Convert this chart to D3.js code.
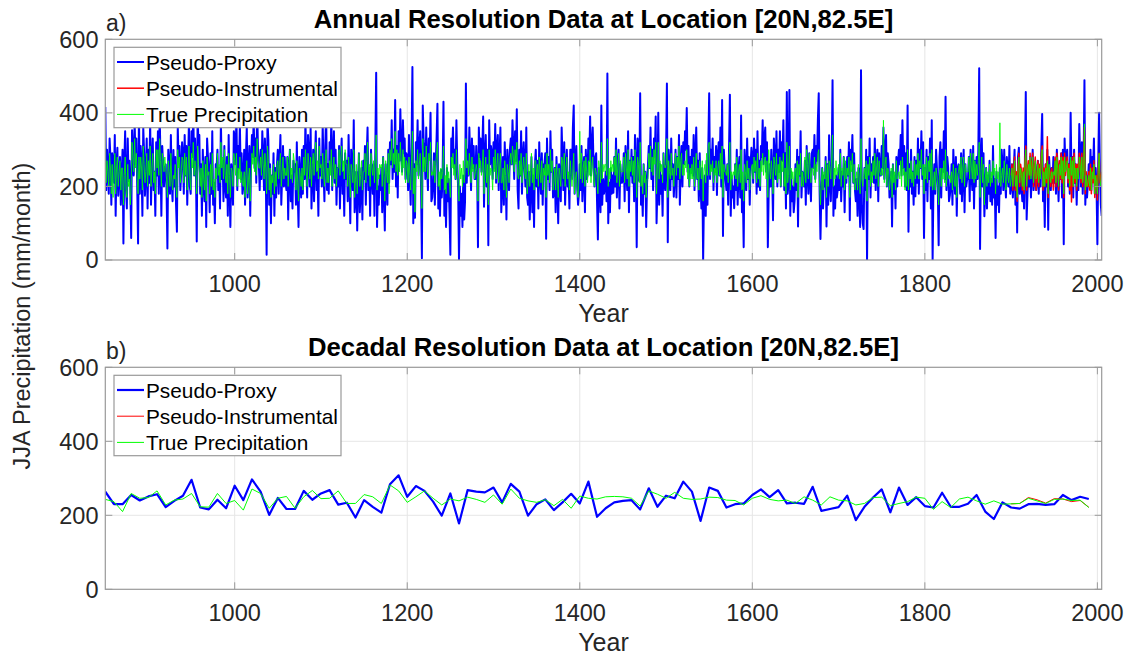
<!DOCTYPE html>
<html><head><meta charset="utf-8">
<script src="https://cdn.jsdelivr.net/npm/d3@7"></script>
<style>body{margin:0;background:#fff} text{font-family:Arial,"Liberation Sans",Helvetica,sans-serif;fill:#262626}</style>
</head><body><svg id="c" width="1132" height="661"></svg>
<script>
const annualStart = 850;
const proxyAnnual = [
416,190,300,245,180,330,275,150,290,264, 210,340,120,260,305,175,230,280,150,230,
300,45,260,350,190,140,330,215,270,200, 60,353,290,230,380,260,330,200,45,402,
180,310,255,120,360,290,175,240,330,140, 300,210,380,150,270,330,190,240,120,320,
230,350,180,400,270,120,310,260,200,250, 260,190,31,300,250,180,340,210,160,299,
200,280,150,77,362,260,310,190,240,320, 290,180,340,230,310,150,270,380,200,180,
350,280,410,230,330,260,50,390,320,340, 180,260,120,300,210,160,280,90,330,280,
240,130,290,180,350,150,210,100,260,250, 300,190,250,140,380,220,270,160,310,200,
170,280,120,340,200,90,260,230,150,350, 330,260,400,190,310,250,370,220,290,180,
210,300,150,280,360,170,240,310,120,270, 340,280,390,250,330,210,420,300,260,190,
300,220,350,280,190,330,250,14,380,326, 150,260,100,230,180,290,120,250,170,260,
300,180,270,340,150,230,310,200,280,210, 190,280,110,250,300,160,230,140,270,240,
260,150,320,190,90,280,230,170,300,180, 310,220,380,250,170,340,290,200,360,140,
230,300,160,270,350,190,240,120,330,230, 280,200,370,240,160,310,400,190,260,180,
320,240,390,190,280,350,210,300,150,250, 200,310,140,260,330,180,240,120,290,220,
270,160,340,220,100,300,250,190,380,130, 170,240,80,210,290,130,190,250,110,270,
220,310,150,280,360,190,250,120,300,230, 180,260,120,300,509,90,200,150,230,190,
250,130,280,190,80,260,220,150,300,210, 320,260,380,220,300,240,435,200,310,170,
350,270,410,300,240,380,290,330,220,290, 280,190,340,230,150,310,525,100,260,115,
320,260,380,230,300,350,200,5,420,325, 300,220,360,250,190,330,280,400,160,170,
210,290,150,260,330,425,140,200,120,245, 170,230,430,120,190,90,250,160,220,130,
14,330,280,360,250,300,220,380,260,196, 0,200,120,180,90,230,110,160,480,210,
300,230,360,270,190,330,250,310,220,220, 310,250,35,360,280,330,240,300,390,145,
280,340,200,300,40,380,260,310,290,220, 320,250,370,210,300,340,190,280,360,130,
200,280,150,320,240,110,300,260,190,300, 330,260,380,300,220,350,270,410,190,140,
300,230,350,180,280,320,250,200,360,170, 150,240,110,200,280,130,230,90,260,300,
200,270,140,320,230,180,290,150,260,260, 290,58,330,220,280,190,350,240,300,170,
180,250,130,280,200,100,260,220,160,360, 270,190,320,150,250,300,200,230,140,300,
300,220,360,420,180,260,310,200,150,180, 260,190,310,160,240,280,130,300,220,230,
330,270,390,230,310,360,250,200,280,290, 160,56,250,200,130,420,150,220,180,194,
240,160,507,100,210,130,250,180,230,183, 280,200,330,170,250,300,140,260,210,210,
220,290,160,310,240,190,350,130,270,230, 300,210,280,160,340,250,35,330,290,215,
453,150,200,120,260,180,240,90,210,257, 310,250,360,220,300,190,330,280,390,100,
200,400,150,260,180,230,120,290,210,190, 280,480,48,300,250,190,330,220,260,172,
230,300,170,280,220,340,150,260,310,200, 320,260,350,300,413,240,310,200,280,237,
300,230,340,190,280,360,220,270,160,290, 200,140,250,0,180,230,120,270,150,310,
453,220,300,250,330,190,280,240,310,177, 280,320,230,360,200,435,65,300,250,220,
190,260,150,300,449,120,230,170,200,141, 260,190,300,150,240,280,170,393,130,190,
35,300,250,190,330,220,280,150,260,305, 280,210,330,240,300,180,350,200,270,190,
310,280,380,260,330,360,240,320,35,185, 260,200,300,240,108,330,280,220,350,200,
300,240,350,200,320,270,380,190,290,140, 457,180,210,462,120,240,160,200,130,161,
260,190,300,91,280,230,350,170,240,229, 200,270,150,310,240,180,290,220,160,290,
300,250,340,220,310,270,380,453,190,57, 180,250,140,230,200,280,91,260,150,339,
210,160,260,489,120,200,140,230,170,191, 250,190,300,160,240,200,280,130,260,210,
280,230,320,108,300,260,340,210,290,190, 160,220,120,250,180,90,516,150,100,84,
250,190,300,0,280,220,330,170,260,230, 280,210,330,190,260,300,160,290,230,230,
310,250,360,220,300,340,200,290,260,170, 190,240,91,260,180,230,140,280,200,269,
300,260,340,230,380,250,310,200,290,190, 420,77,260,200,300,180,240,150,280,173,
270,210,330,180,300,250,350,220,320,60, 250,190,300,160,280,220,330,140,380,0,
210,260,180,300,250,200,40,280,320,170, 300,240,350,220,444,190,280,250,160,176,
200,260,150,300,230,180,280,120,250,260, 250,180,290,160,240,300,130,260,200,220,
220,280,160,300,240,190,310,140,270,200, 280,220,300,521,30,260,330,200,290,119,
190,250,140,230,180,270,160,220,150,310, 170,220,60,240,150,200,130,250,180,300,
260,190,300,220,170,280,240,200,310,180, 200,260,170,240,300,150,230,75,280,305,
180,250,200,160,230,140,270,457,110,183, 250,200,280,170,240,300,190,220,260,190,
220,270,180,250,200,300,397,160,240,90, 260,200,300,82,280,230,190,250,210,280,
210,270,180,300,240,160,260,220,290,170, 300,43,330,250,280,300,200,260,180,400,
230,280,170,300,210,260,150,250,190,370, 280,200,320,180,260,489,150,230,170,210,
260,210,300,190,280,240,330,180,250,200, 43,260,400,230,150,120];
const trueAnnual = [
350,210,270,240,200,290,250,180,260,170, 220,290,180,250,280,200,240,270,190,250,
250,150,230,280,190,170,260,200,220,150, 200,320,280,240,330,250,290,220,180,280,
220,280,250,190,310,260,210,240,290,200, 270,230,310,200,250,290,210,240,180,300,
250,300,230,330,270,200,290,270,240,280, 250,220,170,270,240,200,290,220,190,230,
220,260,200,170,300,250,280,210,240,280, 270,210,290,230,280,190,250,310,220,190,
290,250,320,230,270,240,180,310,260,240, 200,250,170,270,220,190,260,160,280,230,
240,180,260,200,290,190,220,170,250,220, 290,230,260,210,320,250,280,220,300,230,
210,260,180,290,230,170,250,240,200,290, 270,230,290,200,250,220,280,210,240,210,
200,240,170,230,270,180,220,250,160,220, 290,260,310,240,280,230,330,270,250,250,
280,230,300,260,220,290,250,180,310,270, 190,250,170,230,210,260,180,240,200,260,
270,220,260,290,200,240,280,220,250,230, 230,280,200,260,300,220,250,210,290,270,
240,190,270,210,160,250,230,200,250,190, 280,230,300,240,200,290,260,220,280,200,
260,290,230,280,320,240,270,220,310,250, 260,220,290,240,200,270,300,210,250,210,
270,230,300,200,250,280,220,260,200,250, 250,300,230,280,310,240,270,220,300,260,
260,200,280,230,170,260,240,210,300,170, 220,260,180,240,290,200,230,270,190,240,
240,290,210,270,320,230,260,200,290,250, 230,270,210,280,340,190,250,220,260,250,
260,200,280,230,160,270,240,210,290,180, 300,270,330,250,290,260,350,240,300,230,
290,240,320,270,230,300,250,280,210,270, 260,210,280,230,190,270,350,180,250,130,
270,240,300,220,260,290,210,140,330,240, 280,240,310,260,220,290,270,320,230,240,
230,270,210,260,290,320,200,240,190,250, 220,240,310,190,230,180,260,210,240,200,
170,280,250,290,230,260,220,300,240,200, 160,260,220,250,200,270,210,240,330,250,
270,230,290,250,210,280,240,260,220,240, 260,240,160,290,250,270,230,250,300,180,
240,280,210,260,150,300,230,250,240,190, 280,240,300,220,260,290,210,250,290,210,
210,250,190,270,230,170,260,240,210,270, 290,260,310,280,240,300,260,320,230,220,
270,230,290,210,250,280,240,220,290,180, 210,260,200,240,290,210,250,190,270,270,
220,260,200,280,240,210,270,190,250,230, 260,170,290,230,260,210,300,240,270,190,
210,250,190,260,220,170,250,230,200,280, 270,220,290,200,250,280,220,240,190,270,
230,200,250,290,180,220,240,190,170,220, 350,220,290,210,250,270,200,280,240,210,
270,230,300,210,260,280,220,200,250,240, 230,180,270,250,210,320,220,260,240,260,
260,230,330,200,250,220,270,240,260,240, 280,230,300,210,250,290,200,270,240,240,
240,280,210,290,250,220,300,200,270,240, 280,230,270,210,300,250,170,280,260,210,
320,200,230,180,260,210,240,170,220,220, 290,250,310,240,280,230,300,260,320,180,
250,320,220,270,240,260,210,290,260,250, 260,330,170,270,240,220,290,230,250,200,
250,290,230,280,250,310,220,270,290,230, 260,230,270,250,300,220,260,200,250,220,
260,220,280,200,250,290,220,250,190,270, 250,220,270,160,240,260,210,290,230,310,
320,230,260,240,270,210,250,230,270,210, 250,270,230,290,220,310,170,260,240,240,
230,260,210,270,320,190,240,220,240,230, 260,220,280,200,240,260,210,300,190,240,
160,260,240,210,270,220,250,190,230,250, 260,220,280,240,270,210,290,220,250,200,
270,240,290,230,260,280,220,270,170,300, 250,220,270,240,180,280,260,230,290,210,
260,220,280,200,270,240,290,200,250,180, 320,210,230,310,190,250,220,240,200,240,
250,210,270,170,260,230,290,200,240,200, 230,280,210,300,260,220,290,250,210,250,
250,230,280,210,260,240,290,300,200,150, 210,250,190,240,220,270,170,260,200,270,
250,220,280,340,200,250,220,270,230,240, 260,220,290,200,250,230,280,190,270,220,
250,230,280,170,270,240,290,210,260,190, 210,240,190,260,220,180,330,220,200,230,
250,220,270,160,260,230,280,200,240,210, 270,230,290,220,250,280,200,270,240,230,
250,230,380,210,260,280,200,250,240,190, 220,250,170,260,210,240,190,270,220,230,
240,220,270,200,280,230,250,190,240,200, 300,190,250,220,270,210,240,200,270,220,
260,230,290,220,270,250,300,230,260,180, 260,220,280,210,270,240,290,200,300,190,
210,240,190,250,230,200,150,240,250,200, 250,220,270,210,300,200,240,230,220,230,
210,240,190,260,220,200,250,170,230,240, 260,220,280,210,250,280,200,260,240,240,
240,280,220,290,250,220,290,210,270,220, 260,230,270,320,170,240,280,210,260,150,
220,250,200,240,210,260,200,240,210,270, 230,250,180,260,220,240,210,373,200,230,
250,210,270,230,190,260,230,210,250,200, 220,250,200,240,270,200,230,170,250,280,
210,250,230,200,240,190,260,300,200,240, 260,230,280,220,250,280,210,240,270,220,
230,260,210,250,220,280,300,200,240,200, 250,220,270,180,260,230,210,240,220,240,
230,270,210,280,250,200,260,230,280,220, 270,180,280,240,250,270,220,250,200,280,
230,270,200,280,220,250,200,250,220,280, 260,220,280,210,240,370,190,230,200,210,
230,200,250,190,240,220,260,180,230,210, 180,240,290,220,200,230];
const instStart = 1900;
const instAnnual = [
230,260,190,250,280,190,240,160,260,290, 200,260,240,190,250,180,270,310,190,250,
270,220,290,230,260,290,200,250,280,190, 220,270,200,260,230,290,310,190,250,200,
260,210,335,170,250,240,200,250,230,190, 240,280,200,290,260,190,270,220,290,210,
280,170,290,230,260,280,210,260,190,270, 158,280,200,290,210,260,190,260,230,290,
270,210,290,200,250,360,180,240,200,200, 240,190,260,180,250,210,270,170,220,230,
163,250,290,210,220,240];

const decadalStart = 850;
const proxyDecadal = [264,230,230,255,240,251,257,222,239,253,296,221,216,242,219,280,241,297,264,201,
247,217,217,266,242,259,268,229,234,194,241,223,207,284,308,250,279,266,237,199,
259,178,268,264,262,275,235,285,264,199,230,243,214,235,258,232,291,196,219,235,
239,241,216,273,223,253,246,291,264,185,275,266,221,230,232,255,270,249,268,232,
234,231,277,212,217,222,253,187,223,248,270,208,275,228,249,225,221,261,223,223,
231,255,210,190,235,221,218,230,231,228,230,255,241,250,244];
const trueDecadal = [243,237,210,259,246,248,266,228,241,244,259,223,222,259,232,240,214,271,259,219,
246,251,219,250,267,245,246,266,232,232,256,250,232,282,266,235,250,266,246,228,
244,239,249,243,235,255,230,271,246,239,235,242,226,243,219,252,246,244,250,251,
250,246,225,266,257,246,262,246,243,244,249,248,241,240,228,246,253,243,239,241,
232,250,241,228,250,241,239,228,232,248,249,226,232,237,249,246,216,237,221,244,
249,239,230,239,230,231,232,246,239,232,243,244,240,241,221];
const instDecadalStart = 1900;
const instDecadal = [231,232,248,242,233,245,244,237,240,222];

const xDomain = [850, 2005];
const xTicks = [1000, 1200, 1400, 1600, 1800, 2000];
const yDomain = [0, 600];
const yTicks = [0, 200, 400, 600];
const legendLabels = ["Pseudo-Proxy", "Pseudo-Instrumental", "True Precipitation"];
const colors = ["#0000ff", "#ff0000", "#00ff00"];

const svg = d3.select("#c");
const X0 = 105.3, X1 = 1101.7;
const x = d3.scaleLinear().domain(xDomain).range([X0, X1]);

const panels = [
  {top: 39.3, bottom: 260, letter: "a)", title: "Annual Resolution Data at Location [20N,82.5E]",
   series: [
     {vals: proxyAnnual, start: annualStart, step: 1, w: 2},
     {vals: instAnnual, start: instStart, step: 1, w: 1.5},
     {vals: trueAnnual, start: annualStart, step: 1, w: 0.85}],
   lw: [2, 1.5, 1]},
  {top: 367.3, bottom: 589.3, letter: "b)", title: "Decadal Resolution Data at Location [20N,82.5E]",
   series: [
     {vals: proxyDecadal, start: decadalStart, step: 10, w: 2.2},
     {vals: instDecadal, start: instDecadalStart, step: 10, w: 1},
     {vals: trueDecadal, start: decadalStart, step: 10, w: 1}],
   lw: [2.2, 1, 1]}
];

panels.forEach((p, pi) => {
  const y = d3.scaleLinear().domain(yDomain).range([p.bottom, p.top]);
  const g = svg.append("g");
  const clipId = "clip" + pi;
  svg.append("clipPath").attr("id", clipId).append("rect")
    .attr("x", X0).attr("y", p.top).attr("width", X1 - X0).attr("height", p.bottom - p.top);
  g.selectAll(".gx").data(xTicks).join("line")
    .attr("x1", d => x(d)).attr("x2", d => x(d)).attr("y1", p.top).attr("y2", p.bottom)
    .attr("stroke", "#e6e6e6").attr("stroke-width", 1);
  g.selectAll(".gy").data(yTicks.filter(t => t > 0 && t < 600)).join("line")
    .attr("y1", d => y(d)).attr("y2", d => y(d)).attr("x1", X0).attr("x2", X1)
    .attr("stroke", "#e6e6e6").attr("stroke-width", 1);
  const lg = svg.append("g").attr("clip-path", `url(#${clipId})`);
  p.series.forEach((s, si) => {
    const line = d3.line().x((d, i) => x(s.start + i * s.step)).y(d => y(d));
    lg.append("path").datum(s.vals).attr("d", line)
      .attr("fill", "none").attr("stroke", colors[si]).attr("stroke-width", s.w)
      .attr("stroke-linejoin", "round");
  });
  const ax = svg.append("g");
  ax.append("rect").attr("x", X0).attr("y", p.top).attr("width", X1 - X0).attr("height", p.bottom - p.top)
    .attr("fill", "none").attr("stroke", "#9a9a9a").attr("stroke-width", 1.2);
  const tl = 7;
  xTicks.forEach(t => {
    ax.append("line").attr("x1", x(t)).attr("x2", x(t)).attr("y1", p.bottom).attr("y2", p.bottom - tl).attr("stroke", "#9a9a9a");
    ax.append("line").attr("x1", x(t)).attr("x2", x(t)).attr("y1", p.top).attr("y2", p.top + tl).attr("stroke", "#9a9a9a");
    ax.append("text").attr("x", x(t)).attr("y", p.bottom + 32).attr("text-anchor", "middle")
      .attr("font-size", 23.5).text(t);
  });
  yTicks.forEach(t => {
    ax.append("line").attr("x1", X0).attr("x2", X0 + tl).attr("y1", y(t)).attr("y2", y(t)).attr("stroke", "#9a9a9a");
    ax.append("line").attr("x1", X1).attr("x2", X1 - tl).attr("y1", y(t)).attr("y2", y(t)).attr("stroke", "#9a9a9a");
    ax.append("text").attr("x", 98.5).attr("y", y(t) + 8.3).attr("text-anchor", "end")
      .attr("font-size", 23.5).text(t);
  });
  ax.append("text").attr("x", (X0 + X1) / 2).attr("y", p.top - 11).attr("text-anchor", "middle")
    .attr("font-size", 25.7).attr("font-weight", "bold").style("fill", "#000").text(p.title);
  ax.append("text").attr("x", 106).attr("y", p.top - 8).attr("font-size", 23).text(p.letter);
  ax.append("text").attr("x", (X0 + X1) / 2).attr("y", p.bottom + 62).attr("text-anchor", "middle")
    .attr("font-size", 25).text("Year");
  const L = {x: 114, y: p.top + 8, w: 227, h: 80.4};
  const leg = svg.append("g");
  leg.append("rect").attr("x", L.x).attr("y", L.y).attr("width", L.w).attr("height", L.h)
    .attr("fill", "#fff").attr("stroke", "#9a9a9a").attr("stroke-width", 1.2);
  legendLabels.forEach((lab, i) => {
    const yy = L.y + 14.7 + i * 26.2;
    leg.append("line").attr("x1", L.x + 3).attr("x2", L.x + 30).attr("y1", yy).attr("y2", yy)
      .attr("stroke", colors[i]).attr("stroke-width", p.lw[i]);
    leg.append("text").attr("x", L.x + 32).attr("y", yy + 7.5).attr("font-size", 20.8).style("fill", "#000").text(lab);
  });
});

svg.append("text").attr("transform", "translate(30,316) rotate(-90)").attr("text-anchor", "middle")
  .attr("font-size", 23.5).text("JJA Precipitation (mm/month)");
</script>
</body></html>
